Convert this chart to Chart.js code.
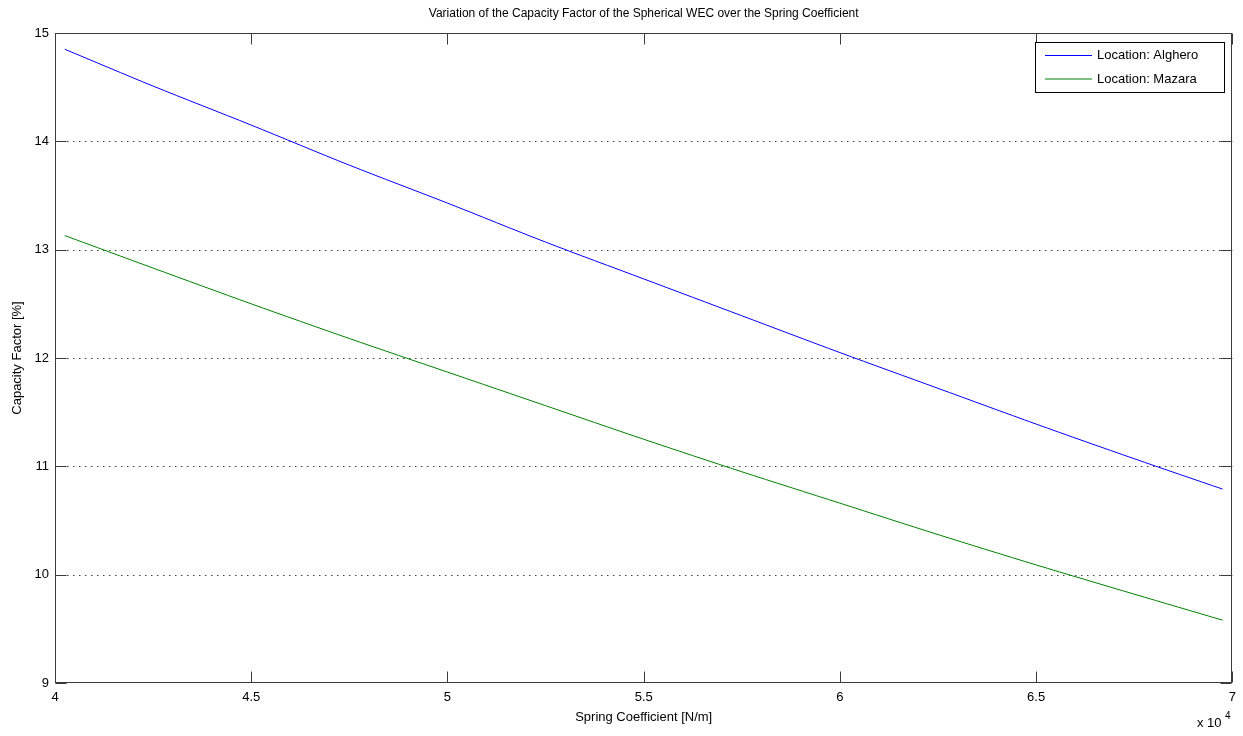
<!DOCTYPE html>
<html>
<head>
<meta charset="utf-8">
<script src="https://cdn.jsdelivr.net/npm/chart.js@4/dist/chart.umd.min.js"></script>
<style>
  html, body { margin: 0; padding: 0; background: #fff; }
  #wrap { width: 1243px; height: 736px; }
</style>
</head>
<body>
<div id="wrap"><canvas id="c" width="1243" height="736"></canvas></div>
<script>
// Spring coefficient samples [N/m]
const springCoefficient = [40250, 42500, 45000, 47500, 50000, 52500, 55000, 57500, 60000, 62500, 65000, 67500, 69750];
// Capacity factor [%] per location
const alghero = [14.85, 14.51, 14.15, 13.78, 13.43, 13.07, 12.73, 12.39, 12.05, 11.72, 11.39, 11.07, 10.79];
const mazara  = [13.13, 12.83, 12.50, 12.18, 11.87, 11.56, 11.25, 10.95, 10.66, 10.37, 10.09, 9.82, 9.58];
const seriesNames = ['Location: Alghero', 'Location: Mazara'];
const xTicks = [40000, 45000, 50000, 55000, 60000, 65000, 70000];
const yTicks = [9, 10, 11, 12, 13, 14, 15];

const FONT = '"Liberation Sans", Arial, Helvetica, sans-serif';
const COLORS = ['#0000ff', '#008000'];

const toPoints = ys => springCoefficient.map((x, i) => ({ x: x, y: ys[i] }));

// Axes box, inward ticks, dotted grid, title, axis labels, legend
const matlabAxes = {
  id: 'matlabAxes',
  beforeDatasetsDraw(chart) {
    const { ctx, chartArea: a, scales: { x, y } } = chart;
    ctx.save();
    ctx.strokeStyle = 'rgba(0,0,0,0.75)';
    ctx.lineWidth = 1;
    ctx.setLineDash([1.5, 4.5]);
    yTicks.forEach(v => {
      if (v === 9 || v === 15) return;
      const py = Math.round(y.getPixelForValue(v)) + 0.5;
      ctx.beginPath();
      ctx.moveTo(a.left, py);
      ctx.lineTo(a.right, py);
      ctx.stroke();
    });
    ctx.restore();
  },
  afterDraw(chart) {
    const { ctx, chartArea: a, scales: { x, y } } = chart;
    const L = Math.round(a.left) + 0.5, R = Math.round(a.right) - 0.5;
    const T = Math.round(a.top) + 0.5, B = Math.round(a.bottom) - 0.5;
    const tl = 11;
    ctx.save();
    ctx.strokeStyle = '#3a3a3a';
    ctx.lineWidth = 1;
    ctx.setLineDash([]);
    ctx.strokeRect(L, T, R - L, B - T);
    ctx.beginPath();
    xTicks.forEach(v => {
      const px = Math.round(x.getPixelForValue(v)) + 0.5;
      ctx.moveTo(px, B); ctx.lineTo(px, B - tl);
      ctx.moveTo(px, T); ctx.lineTo(px, T + tl);
    });
    yTicks.forEach(v => {
      const py = Math.round(y.getPixelForValue(v)) + 0.5;
      ctx.moveTo(L, py); ctx.lineTo(L + tl, py);
      ctx.moveTo(R, py); ctx.lineTo(R - tl, py);
    });
    ctx.stroke();

    // Title and axis labels
    ctx.fillStyle = '#000';
    ctx.font = '12px ' + FONT;
    ctx.textAlign = 'center';
    ctx.textBaseline = 'middle';
    const cx = (a.left + a.right) / 2;
    ctx.fillText('Variation of the Capacity Factor of the Spherical WEC over the Spring Coefficient', cx, 14);
    ctx.font = '13px ' + FONT;
    ctx.fillText('Spring Coefficient [N/m]', cx, 717);
    ctx.save();
    ctx.translate(17, (a.top + a.bottom) / 2);
    ctx.rotate(-Math.PI / 2);
    ctx.fillText('Capacity Factor [%]', 0, 0);
    ctx.restore();

    // Exponent marker
    ctx.textAlign = 'left';
    ctx.font = '13px ' + FONT;
    ctx.fillText('x 10', 1197, 723);
    ctx.font = '10px ' + FONT;
    ctx.fillText('4', 1225, 716);

    // Legend
    const lx = 1035.5, ly = 42.5, lw = 189, lh = 50;
    ctx.fillStyle = '#fff';
    ctx.fillRect(lx, ly, lw, lh);
    ctx.strokeStyle = '#000';
    ctx.strokeRect(lx, ly, lw, lh);
    ctx.font = '13px ' + FONT;
    ctx.textBaseline = 'middle';
    seriesNames.forEach((name, i) => {
      const yy = 55.5 + i * 23.5;
      ctx.strokeStyle = COLORS[i];
      ctx.beginPath();
      ctx.moveTo(1045, yy); ctx.lineTo(1092, yy);
      ctx.stroke();
      ctx.fillStyle = '#000';
      ctx.fillText(name, 1097, yy);
    });
    ctx.restore();
  }
};

new Chart(document.getElementById('c'), {
  type: 'line',
  data: {
    datasets: [
      { label: seriesNames[0], data: toPoints(alghero), borderColor: COLORS[0], borderWidth: 1, pointRadius: 0, tension: 0.3, fill: false },
      { label: seriesNames[1], data: toPoints(mazara), borderColor: COLORS[1], borderWidth: 1, pointRadius: 0, tension: 0.3, fill: false }
    ]
  },
  options: {
    responsive: false,
    animation: false,
    devicePixelRatio: 1,
    layout: { padding: { left: 0, right: 10, top: 33, bottom: 0 } },
    plugins: { legend: { display: false }, title: { display: false }, tooltip: { enabled: false } },
    scales: {
      x: {
        type: 'linear',
        min: 40000, max: 70000,
        afterFit(s) { s.height = 53; },
        afterBuildTicks(s) { s.ticks = xTicks.map(v => ({ value: v })); },
        grid: { display: false, drawTicks: false },
        border: { display: false },
        ticks: {
          padding: 7,
          color: '#000',
          font: { family: FONT, size: 13 },
          maxRotation: 0,
          callback: v => String(v / 10000)
        }
      },
      y: {
        min: 9, max: 15,
        afterFit(s) { s.width = 55; },
        afterBuildTicks(s) { s.ticks = yTicks.map(v => ({ value: v })); },
        grid: { display: false, drawTicks: false },
        border: { display: false },
        ticks: {
          padding: 6,
          color: '#000',
          font: { family: FONT, size: 13 },
          callback: v => String(v)
        }
      }
    }
  },
  plugins: [matlabAxes]
});
</script>
</body>
</html>
